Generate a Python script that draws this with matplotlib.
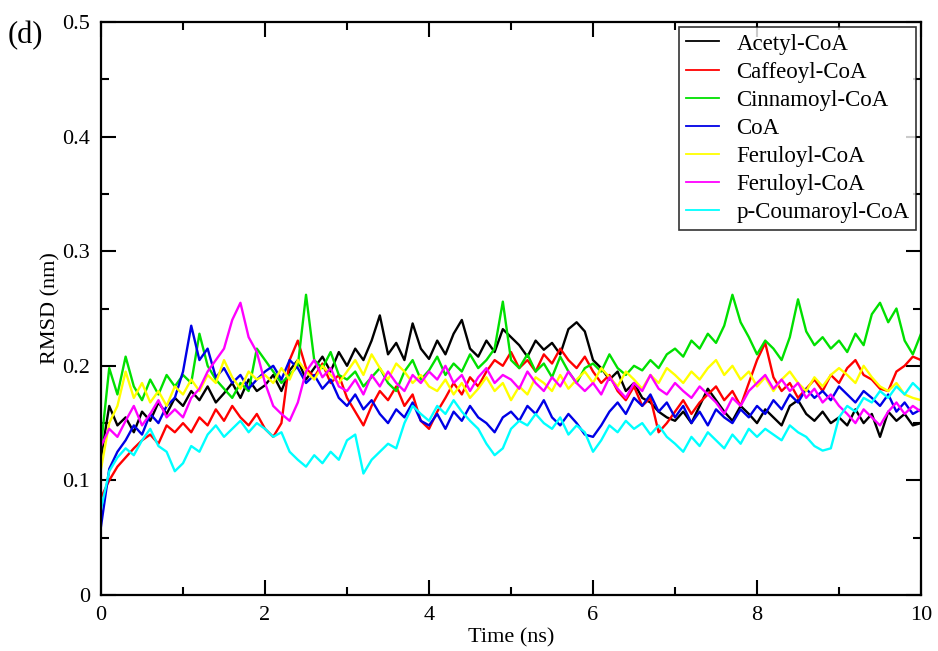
import numpy as np
import matplotlib
matplotlib.use("Agg")
import matplotlib.pyplot as plt

plt.rcParams['font.family'] = ['Liberation Serif', 'DejaVu Serif']

# Simulation time (ns), sampled every 0.1 ns
time_ns = np.linspace(0.0, 10.0, 101)

series_labels = ["Acetyl-CoA", "Caffeoyl-CoA", "Cinnamoyl-CoA", "CoA",
                 "Feruloyl-CoA", "Feruloyl-CoA", "p-Coumaroyl-CoA"]
series_colors = ["#000000", "#ff0000", "#00e000", "#0000e6",
                 "#ffff00", "#ff00ff", "#00ffff"]

# RMSD (nm)
acetyl_coa = [
    0.120, 0.165, 0.148, 0.155, 0.142, 0.160, 0.152, 0.168, 0.158, 0.172,
    0.165, 0.178, 0.170, 0.182, 0.168, 0.176, 0.185, 0.172, 0.188, 0.178,
    0.183, 0.192, 0.178, 0.196, 0.205, 0.188, 0.198, 0.208, 0.195, 0.212,
    0.200, 0.215, 0.205, 0.222, 0.244, 0.210, 0.220, 0.205, 0.237, 0.215,
    0.206, 0.222, 0.210, 0.228, 0.240, 0.215, 0.208, 0.222, 0.212, 0.232,
    0.225, 0.218, 0.208, 0.222, 0.214, 0.220, 0.210, 0.232, 0.238, 0.230,
    0.205, 0.198, 0.188, 0.195, 0.178, 0.185, 0.172, 0.168, 0.160, 0.155,
    0.152, 0.160, 0.150, 0.165, 0.180, 0.170, 0.160, 0.152, 0.165, 0.158,
    0.150, 0.162, 0.155, 0.148, 0.165, 0.170, 0.158, 0.152, 0.160, 0.150,
    0.155, 0.148, 0.162, 0.150, 0.158, 0.138, 0.160, 0.152, 0.158, 0.148,
    0.150]

caffeoyl_coa = [
    0.085, 0.100, 0.112, 0.120, 0.128, 0.135, 0.140, 0.132, 0.148, 0.142,
    0.150, 0.142, 0.155, 0.148, 0.162, 0.152, 0.165, 0.155, 0.148, 0.158,
    0.145, 0.138, 0.150, 0.205, 0.222, 0.198, 0.190, 0.202, 0.185, 0.192,
    0.172, 0.160, 0.148, 0.165, 0.178, 0.170, 0.182, 0.165, 0.175, 0.152,
    0.145, 0.160, 0.172, 0.185, 0.175, 0.190, 0.182, 0.195, 0.205, 0.200,
    0.212, 0.198, 0.205, 0.195, 0.210, 0.202, 0.215, 0.205, 0.198, 0.208,
    0.195, 0.185, 0.192, 0.178, 0.170, 0.182, 0.165, 0.172, 0.142, 0.150,
    0.160, 0.170, 0.158, 0.168, 0.175, 0.182, 0.170, 0.178, 0.165, 0.185,
    0.205, 0.220, 0.190, 0.178, 0.185, 0.172, 0.180, 0.188, 0.178, 0.192,
    0.185, 0.198, 0.205, 0.192, 0.188, 0.180, 0.178, 0.195, 0.200, 0.208,
    0.205]

cinnamoyl_coa = [
    0.130, 0.198, 0.175, 0.208, 0.182, 0.170, 0.188, 0.175, 0.192, 0.182,
    0.192, 0.185, 0.228, 0.200, 0.188, 0.180, 0.172, 0.185, 0.178, 0.215,
    0.205, 0.195, 0.185, 0.192, 0.200, 0.262, 0.205, 0.198, 0.212, 0.192,
    0.188, 0.195, 0.182, 0.190, 0.198, 0.185, 0.178, 0.195, 0.205, 0.188,
    0.196, 0.208, 0.192, 0.202, 0.195, 0.210, 0.198, 0.205, 0.215, 0.256,
    0.205, 0.198, 0.210, 0.195, 0.202, 0.190, 0.208, 0.195, 0.185, 0.198,
    0.202, 0.195, 0.210, 0.198, 0.192, 0.200, 0.196, 0.205, 0.198, 0.210,
    0.215, 0.208, 0.222, 0.215, 0.228, 0.220, 0.235, 0.262, 0.238, 0.225,
    0.210, 0.222, 0.215, 0.205, 0.225, 0.258, 0.230, 0.218, 0.225, 0.215,
    0.222, 0.212, 0.228, 0.218, 0.245, 0.255, 0.238, 0.250, 0.222, 0.210,
    0.228]

coa = [
    0.060, 0.110, 0.125, 0.135, 0.148, 0.140, 0.158, 0.150, 0.165, 0.172,
    0.195, 0.235, 0.205, 0.215, 0.190, 0.198, 0.185, 0.192, 0.180, 0.188,
    0.195, 0.200, 0.188, 0.205, 0.198, 0.185, 0.192, 0.180, 0.188, 0.172,
    0.165, 0.175, 0.162, 0.170, 0.158, 0.150, 0.162, 0.155, 0.168, 0.152,
    0.148, 0.158, 0.145, 0.160, 0.152, 0.165, 0.155, 0.150, 0.142, 0.155,
    0.160, 0.152, 0.165, 0.158, 0.170, 0.155, 0.148, 0.158, 0.150, 0.140,
    0.138, 0.148, 0.160, 0.168, 0.158, 0.172, 0.165, 0.175, 0.160, 0.168,
    0.155, 0.165, 0.150, 0.160, 0.148, 0.162, 0.155, 0.150, 0.162, 0.155,
    0.165, 0.158, 0.170, 0.162, 0.175, 0.168, 0.180, 0.172, 0.178, 0.170,
    0.182, 0.175, 0.168, 0.178, 0.172, 0.165, 0.175, 0.160, 0.168, 0.158,
    0.162]

feruloyl_coa_a = [
    0.110, 0.150, 0.165, 0.195, 0.172, 0.185, 0.168, 0.178, 0.165, 0.182,
    0.175, 0.188, 0.178, 0.192, 0.185, 0.205, 0.190, 0.180, 0.195, 0.188,
    0.192, 0.185, 0.198, 0.188, 0.205, 0.195, 0.188, 0.200, 0.192, 0.185,
    0.195, 0.205, 0.192, 0.210, 0.198, 0.188, 0.202, 0.195, 0.185, 0.192,
    0.182, 0.178, 0.188, 0.175, 0.185, 0.172, 0.180, 0.190, 0.178, 0.185,
    0.170, 0.182, 0.175, 0.190, 0.185, 0.178, 0.192, 0.180, 0.188, 0.195,
    0.185, 0.198, 0.190, 0.182, 0.195, 0.188, 0.180, 0.192, 0.185, 0.198,
    0.192, 0.185, 0.195, 0.188, 0.198, 0.205, 0.192, 0.200, 0.188, 0.195,
    0.182, 0.190, 0.178, 0.188, 0.195, 0.185, 0.178, 0.190, 0.182, 0.192,
    0.198, 0.192, 0.185, 0.200, 0.190, 0.182, 0.178, 0.185, 0.175, 0.172,
    0.170]

feruloyl_coa_b = [
    0.130, 0.145, 0.138, 0.152, 0.165, 0.148, 0.158, 0.170, 0.155, 0.162,
    0.155, 0.172, 0.180, 0.195, 0.205, 0.215, 0.240, 0.255, 0.225, 0.212,
    0.185, 0.165, 0.158, 0.152, 0.168, 0.195, 0.205, 0.190, 0.198, 0.182,
    0.178, 0.188, 0.175, 0.192, 0.182, 0.195, 0.185, 0.178, 0.192, 0.185,
    0.195, 0.188, 0.200, 0.185, 0.192, 0.178, 0.190, 0.198, 0.185, 0.192,
    0.188, 0.180, 0.195, 0.185, 0.178, 0.190, 0.182, 0.195, 0.185, 0.178,
    0.185, 0.175, 0.190, 0.180, 0.172, 0.185, 0.178, 0.192, 0.180, 0.175,
    0.185, 0.178, 0.172, 0.182, 0.175, 0.168, 0.158, 0.172, 0.165, 0.178,
    0.185, 0.192, 0.180, 0.188, 0.178, 0.185, 0.172, 0.180, 0.168, 0.175,
    0.165, 0.158, 0.150, 0.162, 0.155, 0.148, 0.160, 0.168, 0.158, 0.165,
    0.160]

p_coumaroyl_coa = [
    0.075, 0.108, 0.120, 0.128, 0.122, 0.135, 0.145, 0.130, 0.125, 0.108,
    0.115, 0.130, 0.125, 0.140, 0.148, 0.138, 0.145, 0.152, 0.142, 0.150,
    0.145, 0.138, 0.142, 0.125, 0.118, 0.112, 0.122, 0.115, 0.125, 0.118,
    0.135, 0.140, 0.106, 0.118, 0.125, 0.132, 0.128, 0.150, 0.165, 0.158,
    0.152, 0.165, 0.158, 0.170, 0.160, 0.152, 0.145, 0.132, 0.122, 0.128,
    0.145, 0.152, 0.148, 0.158, 0.150, 0.145, 0.155, 0.140, 0.148, 0.142,
    0.125, 0.135, 0.148, 0.142, 0.152, 0.145, 0.150, 0.140, 0.148, 0.138,
    0.132, 0.125, 0.138, 0.130, 0.142, 0.135, 0.128, 0.140, 0.132, 0.145,
    0.138, 0.145, 0.140, 0.135, 0.148, 0.142, 0.138, 0.130, 0.126, 0.128,
    0.155, 0.165, 0.160, 0.172, 0.168, 0.178, 0.172, 0.182, 0.175, 0.185,
    0.178]

all_series = [acetyl_coa, caffeoyl_coa, cinnamoyl_coa, coa,
              feruloyl_coa_a, feruloyl_coa_b, p_coumaroyl_coa]

x_ticks = [0, 2, 4, 6, 8, 10]
x_tick_labels = ["0", "2", "4", "6", "8", "10"]
y_ticks = [0, 0.1, 0.2, 0.3, 0.4, 0.5]
y_tick_labels = ["0", "0.1", "0.2", "0.3", "0.4", "0.5"]

fig = plt.figure(figsize=(9.38, 6.51), dpi=100)
ax = fig.add_axes([0.1077, 0.086, 0.8742, 0.8802])

for values, label, color in zip(all_series, series_labels, series_colors):
    ax.plot(time_ns, values, color=color, lw=1.7, label=label)

ax.set_xlim(0, 10)
ax.set_ylim(0, 0.5)
ax.set_xticks(x_ticks)
ax.set_xticklabels(x_tick_labels)
ax.set_yticks(y_ticks)
ax.set_yticklabels(y_tick_labels)
ax.set_xticks(np.arange(1, 10, 2), minor=True)
ax.set_yticks(np.arange(0.05, 0.5, 0.1), minor=True)
ax.tick_params(which="both", direction="in", top=True, right=True,
               width=1.5, labelsize=16)
ax.tick_params(which="major", length=11)
ax.tick_params(axis="x", which="major", pad=8)
ax.tick_params(axis="y", which="major", pad=8)
ax.tick_params(which="minor", length=6)
for sp in ax.spines.values():
    sp.set_linewidth(1.6)

ax.set_xlabel("Time (ns)", fontsize=16, labelpad=2)
ax.set_ylabel("RMSD (nm)", fontsize=16, labelpad=1)

leg = ax.legend(loc="upper right", fontsize=16.5, frameon=True, fancybox=False,
                edgecolor="black", borderaxespad=0.2, handlelength=1.45,
                handletextpad=0.75, labelspacing=0.31, borderpad=0.3)
leg.get_frame().set_linewidth(1.2)
for h in leg.get_lines():
    h.set_linewidth(1.3)

fig.text(0.008, 0.946, "(d)", fontsize=22, ha="left", va="center")

fig.savefig("out.png", dpi=100)
